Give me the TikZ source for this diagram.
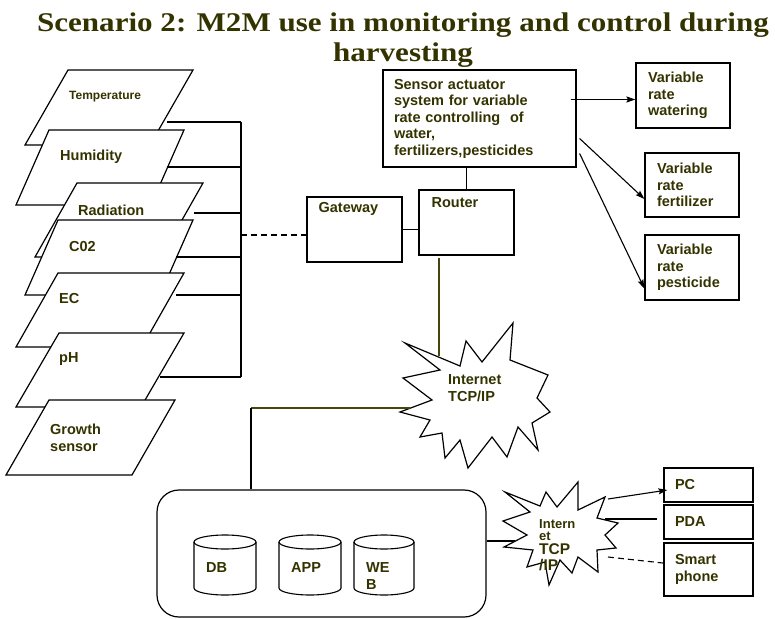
\documentclass[tikz,border=0pt]{standalone}
\usepackage{fontspec}
\usepackage{graphicx}
\setmainfont{Liberation Serif}
\setsansfont{Liberation Sans}
\usetikzlibrary{calc,arrows.meta}
\definecolor{olivetxt}{RGB}{51,51,0}
\definecolor{oliveline}{RGB}{70,70,10}
\def\lblfont{\sffamily\bfseries\fontsize{14.5}{16.5}\selectfont}
\def\wide#1{\scalebox{1.15}[1]{#1}}
\def\drum(#1,#2,#3){\draw[line width=1.1pt, fill=white] (#1,#2+7) -- (#1,#2+53) arc (180:0:#3/2 and 7) -- (#1+#3,#2+7);
	\draw[line width=1.1pt] (#1+#3/2,#2+7) ellipse (#3/2 and 7);}

\begin{document}
\begin{tikzpicture}[x=1pt, y=-1pt,
	lbl/.style={font=\lblfont, text=olivetxt, inner sep=0pt, anchor=west, align=left},
	box/.style={draw, line width=1.2pt, fill=white, inner sep=0pt, font=\lblfont, text=olivetxt, align=left},
	wire/.style={line width=1.1pt},
	oline/.style={line width=1.1pt, draw=oliveline},
	arr/.style={line width=1.1pt, -{Stealth[length=9pt, width=6pt, inset=1.5pt]}},
	slab/.style={draw, line width=1.2pt, fill=white}]
			%%%%% START %%%%%
			
			\fill[white] (0,0) rectangle (775,618);
			\useasboundingbox (0,0) rectangle (775,618);
			
			\node[font=\bfseries\fontsize{27}{30}\selectfont, text=olivetxt, align=center, anchor=north, inner sep=0pt] (title) at (403,13) {\wide{Scenario 2: M2M use in monitoring and control during}\\\wide{harvesting}};
			
			% sensor stack
			\draw[slab] (25,145) -- (68,70) -- (193,70) -- (150,145) -- cycle;
			\node[lbl, font=\sffamily\bfseries\fontsize{12}{14}\selectfont] (temp) at (69,97) {Temperature};
			\draw[slab] (16,205) -- (49,130) -- (184,130) -- (151,205) -- cycle;
			\node[lbl] (humid) at (60,157) {Humidity};
			\draw[slab] (35,257) -- (77,183) -- (203,183) -- (161,257) -- cycle;
			\node[lbl] (rad) at (78,210) {Radiation};
			\draw[slab] (25,295) -- (58,220) -- (193,220) -- (160,295) -- cycle;
			\node[lbl] (coo) at (69,247) {C02};
			\draw[slab] (16,347) -- (58,273) -- (184,273) -- (142,347) -- cycle;
			\node[lbl] (ec) at (59,299) {EC};
			\draw[slab] (16,407) -- (59,333) -- (184,333) -- (141,407) -- cycle;
			\node[lbl] (ph) at (59,359) {pH};
			\draw[slab] (6,475) -- (49,400) -- (175,400) -- (132,475) -- cycle;
			\node[lbl] (growth) at (50,438) {Growth\\sensor};
			
			% bus
			\coordinate (bustop) at (241,122);
			\coordinate (busbot) at (241,377);
			\coordinate (busmid) at (241,235);
			\draw[wire] (bustop) -- (busbot);
			\coordinate (temp-out) at (167,122);
			\coordinate (humid-out) at (167,167);
			\coordinate (rad-out) at (194,213);
			\coordinate (coo-out) at (176,257);
			\coordinate (ec-out) at (176,295);
			\coordinate (ph-out) at (160,377);
			\foreach \s in {temp,humid,rad,coo,ec,ph}
				\draw[wire] (\s-out) -- (\s-out -| bustop);
			
			% gateway, router, actuators
			\node[box, minimum width=95pt, minimum height=65pt] (gw) at (354.5,229.5) {};
			\node[lbl] (gwtxt) at ($(gw.north west)+(12,13)$) {Gateway};
			\node[box, minimum width=95pt, minimum height=65pt] (router) at (466.5,222.5) {};
			\node[lbl] (routertxt) at ($(router.north west)+(13,13)$) {Router};
			\draw[wire, dash pattern=on 6pt off 4pt] (busmid) -- (busmid -| gw.west);
			\draw[wire] (gw.east) -- (gw.east -| router.west);
			
			\node[box, minimum width=193pt, minimum height=97pt, text width=171pt] (act) at (479.5,118.5) {Sensor actuator\\system for variable\\rate controlling\ \ of\\water,\\fertilizers,pesticides};
			\draw[wire] (router.north) -- (router.north |- act.south);
			
			\node[box, minimum width=94pt, minimum height=65pt, text width=70pt] (water) at (683,95.5) {Variable\\rate\\watering};
			\node[box, minimum width=94pt, minimum height=64pt, text width=70pt] (fert) at (692,185) {Variable\\rate\\fertilizer};
			\node[box, minimum width=94pt, minimum height=65pt, text width=70pt] (pest) at (692,267.5) {Variable\\rate\\pesticide};
			
			\draw[arr] ($(act.east |- water.west)+(-6,4)$) -- ($(water.west)+(0,4)$);
			\draw[arr] ($(act.east)+(3,20)$) -- ($(fert.west)+(0,14)$);
			\draw[arr] ($(act.east)+(3,35)$) -- ($(pest.west)+(0,21)$);
			
			% internet
			\coordinate (inet-top) at (439,356);
			\coordinate (inet-left) at (410,408);
			\coordinate (lan) at (251,408);
			\draw[oline] ($(router.south)+(-27.5,2)$) -- (inet-top);
			\draw[slab] (405,343) -- (460,366) -- (466,341) -- (482,362) -- (513,323) -- (510,360)
				-- (548,375) -- (537,398) -- (550,412) -- (532,423) -- (538,450) -- (518,427)
				-- (507,457) -- (492,437) -- (468,468) -- (460,440) -- (445,458) -- (442,433)
				-- (420,437) -- (430,420) -- (400,412) -- (432,400) -- (403,378) -- (440,370) -- cycle;
			\node[lbl] (inet) at (448,388) {Internet\\TCP/IP};
			\draw[oline] (lan) -- (inet-left);
			
			% servers
			\node[box, rounded corners=22pt, minimum width=329pt, minimum height=127pt] (server) at (321.5,553.5) {};
			\draw[wire] (lan) -- (lan |- server.north);
			\drum(194,535,62)
			\drum(279,535,62)
			\drum(354,535,60)
			\node[lbl] (db) at (206,568) {DB};
			\node[lbl] (app) at (291,568) {APP};
			\node[lbl] (web) at (366,576) {WE\\B};
			
			% second internet
			\coordinate (sb-left) at (515,541);
			\draw[wire] (server.east |- sb-left) -- (sb-left);
			\draw[slab] (505,492) -- (540,506) -- (546,492) -- (557,507) -- (578,482) -- (578,510)
				-- (605,497) -- (597,518) -- (618,523) -- (605,535) -- (616,548) -- (597,550)
				-- (598,572) -- (578,557) -- (572,573) -- (560,560) -- (549,585) -- (545,562)
				-- (527,567) -- (533,550) -- (504,547) -- (527,535) -- (503,521) -- (530,512) -- cycle;
			\node[lbl, font=\sffamily\bfseries\fontsize{13}{12}\selectfont] (sinet) at (539,530) {Intern\\et};
			\node[lbl, font=\sffamily\bfseries\fontsize{15.5}{16}\selectfont] (stcp) at (539,557) {TCP\\/IP};
			
			% devices
			\node[box, minimum width=89pt, minimum height=34pt, text width=67pt] (pc) at (708.5,485) {PC};
			\node[box, minimum width=89pt, minimum height=34pt, text width=67pt] (pda) at (708.5,522) {PDA};
			\node[box, minimum width=89pt, minimum height=53pt, text width=67pt] (smart) at (708.5,569.5) {Smart\\phone};
			
			\coordinate (sb-pc) at (608,499);
			\coordinate (sb-pda) at (605,519);
			\coordinate (sb-sp) at (608,557);
			\draw[arr] (sb-pc) -- ($(pc.west)+(4,5)$);
			\draw[wire] (sb-pda) -- ($(pda.west)+(-6,-3)$);
			\draw[wire, dash pattern=on 6pt off 4pt] (sb-sp) -- ($(smart.west)+(4,-6)$);
			
			%%%%% END %%%%%
\end{tikzpicture}
\end{document}
